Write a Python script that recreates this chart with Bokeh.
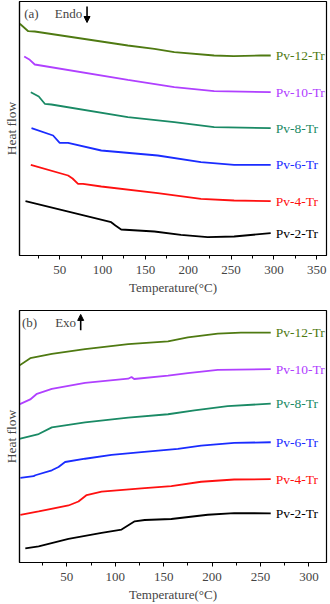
from bokeh.plotting import figure
from bokeh.layouts import column
from bokeh.models import Range1d, FixedTicker, Label, Arrow, NormalHead, ColumnDataSource
from bokeh.core.properties import value
from bokeh.embed import file_html
from bokeh.resources import INLINE

FONT = "Liberation Serif"

names = ["Pv-12-Tr", "Pv-10-Tr", "Pv-8-Tr", "Pv-6-Tr", "Pv-4-Tr", "Pv-2-Tr"]
colors = ["#4f7a12", "#b040ff", "#1a8a65", "#1a2cff", "#ff1010", "#000000"]

# Panel (a): Endo, temperature (°C) vs heat flow (arbitrary offset units)
a_t_12 = [3.5, 13.3, 20.9, 129.5, 160.5, 183.7, 230.2, 253.0, 284.5, 296.2]
a_h_12 = [231.7, 224.3, 224.0, 210.0, 206.7, 203.3, 200.0, 199.3, 200.0, 200.0]
a_t_10 = [8.6, 15.1, 20.9, 129.5, 183.7, 230.2, 296.2]
a_h_10 = [199.0, 195.7, 191.0, 175.7, 168.3, 164.3, 163.3]
a_t_8 = [16.3, 25.6, 32.6, 40.3, 129.5, 183.7, 230.2, 296.2]
a_h_8 = [163.3, 159.0, 151.7, 151.0, 138.3, 133.3, 128.3, 127.3]
a_t_6 = [17.1, 42.3, 50.0, 59.8, 98.5, 164.4, 214.8, 253.5, 296.2]
a_h_6 = [127.3, 120.0, 112.7, 112.7, 105.0, 100.0, 93.3, 90.7, 90.7]
a_t_4 = [16.3, 59.8, 65.0, 71.4, 77.2, 98.5, 164.4, 214.8, 253.5, 296.2]
a_h_4 = [90.7, 80.0, 77.0, 71.7, 71.7, 69.0, 62.3, 56.7, 55.0, 54.3]
a_t_2 = [10.1, 110.1, 115.0, 121.7, 160.5, 191.5, 222.6, 253.5, 296.2]
a_h_2 = [54.3, 33.3, 30.0, 26.0, 24.0, 20.7, 18.3, 19.0, 22.3]

# Panel (b): Exo
b_t_12 = [0.9, 12.2, 34.5, 68.8, 113.4, 154.5, 175.0, 205.9, 229.8, 260.6]
b_h_12 = [199.3, 206.7, 211.0, 216.0, 221.0, 223.7, 227.7, 231.7, 232.7, 232.7]
b_t_10 = [0.9, 12.2, 19.1, 34.5, 68.8, 113.4, 116.8, 119.5, 154.5, 175.0, 205.9, 260.6]
b_h_10 = [160.0, 165.0, 170.7, 175.7, 181.7, 186.0, 187.7, 185.7, 189.0, 191.7, 195.0, 195.7]
b_t_8 = [0.9, 20.9, 34.5, 68.8, 113.4, 154.5, 181.8, 216.1, 260.6]
b_h_8 = [125.0, 130.0, 136.7, 141.7, 146.7, 150.0, 154.0, 158.3, 160.7]
b_t_6 = [2.0, 15.7, 17.4, 34.5, 41.4, 48.2, 68.8, 96.2, 127.0, 164.7, 188.7, 222.9, 260.6]
b_h_6 = [85.7, 87.3, 88.3, 93.3, 96.7, 101.7, 105.0, 109.0, 111.7, 115.0, 118.3, 121.0, 121.7]
b_t_4 = [2.0, 20.9, 51.7, 62.0, 70.5, 85.9, 127.0, 157.9, 188.7, 222.9, 260.6]
b_h_4 = [48.3, 51.7, 57.7, 61.7, 68.3, 71.7, 75.0, 77.3, 81.7, 84.0, 84.3]
b_t_2 = [7.1, 20.9, 51.7, 85.9, 106.5, 120.1, 130.4, 157.9, 195.6, 222.9, 260.6]
b_h_2 = [14.3, 16.3, 24.0, 30.0, 33.3, 41.7, 43.0, 44.0, 48.3, 50.0, 49.7]

ticks_a = [50, 100, 150, 200, 250, 300, 350]
minor_a = [25, 75, 125, 175, 225, 275, 325]
ticks_b = [50, 100, 150, 200, 250, 300]
minor_b = [25, 75, 125, 175, 225, 275]

series_a = [(a_t_12, a_h_12), (a_t_10, a_h_10), (a_t_8, a_h_8),
            (a_t_6, a_h_6), (a_t_4, a_h_4), (a_t_2, a_h_2)]
series_b = [(b_t_12, b_h_12), (b_t_10, b_h_10), (b_t_8, b_h_8),
            (b_t_6, b_h_6), (b_t_4, b_h_4), (b_t_2, b_h_2)]


def make_panel(series, xr, yr, ticks, minor, height, top, bottom, tag, word,
               tag_x, tag_y, word_x, arr_x, arr_y0, arr_y1):
    p = figure(width=330, height=height, x_range=Range1d(*xr), y_range=Range1d(*yr),
               output_backend="svg", toolbar_location=None,
               min_border_left=18, min_border_right=4,
               min_border_top=top, min_border_bottom=bottom)
    p.grid.visible = False
    p.outline_line_color = "black"
    p.outline_line_width = 1.2
    p.background_fill_color = "white"
    p.border_fill_color = "white"

    for (t, h), c, n in zip(series, colors, names):
        p.line(t, h, line_color=c, line_width=1.8)
        src = ColumnDataSource(dict(x=[t[-1]], y=[h[-1]], txt=[n]))
        p.text(x="x", y="y", text="txt", source=src, x_offset=5,
               text_baseline="middle", text_align="left", text_color=c,
               text_font=value(FONT), text_font_size="13.5px")

    xa = p.xaxis[0]
    xa.ticker = FixedTicker(ticks=ticks, minor_ticks=minor)
    xa.axis_label = "Temperature(\u00b0C)"
    xa.axis_label_text_font = FONT
    xa.axis_label_text_font_style = "normal"
    xa.axis_label_text_font_size = "13px"
    xa.axis_label_standoff = 3
    xa.major_label_text_font = FONT
    xa.major_label_text_font_size = "13px"
    xa.major_label_standoff = 6
    xa.major_tick_in = 0
    xa.major_tick_out = 4
    xa.minor_tick_in = 0
    xa.minor_tick_out = 3
    xa.axis_line_width = 1.2

    ya = p.yaxis[0]
    ya.ticker = FixedTicker(ticks=[], minor_ticks=[])
    ya.axis_label = "Heat flow"
    ya.axis_label_text_font = FONT
    ya.axis_label_text_font_style = "normal"
    ya.axis_label_text_font_size = "13.5px"
    ya.axis_label_standoff = 1
    ya.major_label_standoff = 0
    ya.major_tick_out = 0
    ya.major_tick_in = 0
    ya.minor_tick_out = 0
    ya.minor_tick_in = 0
    ya.axis_line_width = 1.2

    p.add_layout(Label(x=tag_x, y=tag_y, text=tag, text_font=FONT, text_font_size="13px",
                       text_baseline="middle"))
    p.add_layout(Label(x=word_x, y=tag_y, text=word, text_font=FONT, text_font_size="13px",
                       text_baseline="middle"))
    p.add_layout(Arrow(x_start=arr_x, y_start=arr_y0, x_end=arr_x, y_end=arr_y1,
                       line_width=1.6, line_color="black",
                       end=NormalHead(size=6, fill_color="black", line_color="black")))
    return p


pa = make_panel(series_a, (3.1, 361.3), (0, 254), ticks_a, minor_a, 302, 1, 47,
                "(a)", "Endo", 8.6, 241.7, 44.2, 81.9, 249, 233)
pb = make_panel(series_b, (1.1, 318.2), (0, 255), ticks_b, minor_b, 302, 8, 39,
                "(b)", "Exo", 3.7, 243.3, 37.9, 64.3, 235, 251)

layout = column(pa, pb, spacing=0)

open("out.html", "w").write(file_html(layout, INLINE))
